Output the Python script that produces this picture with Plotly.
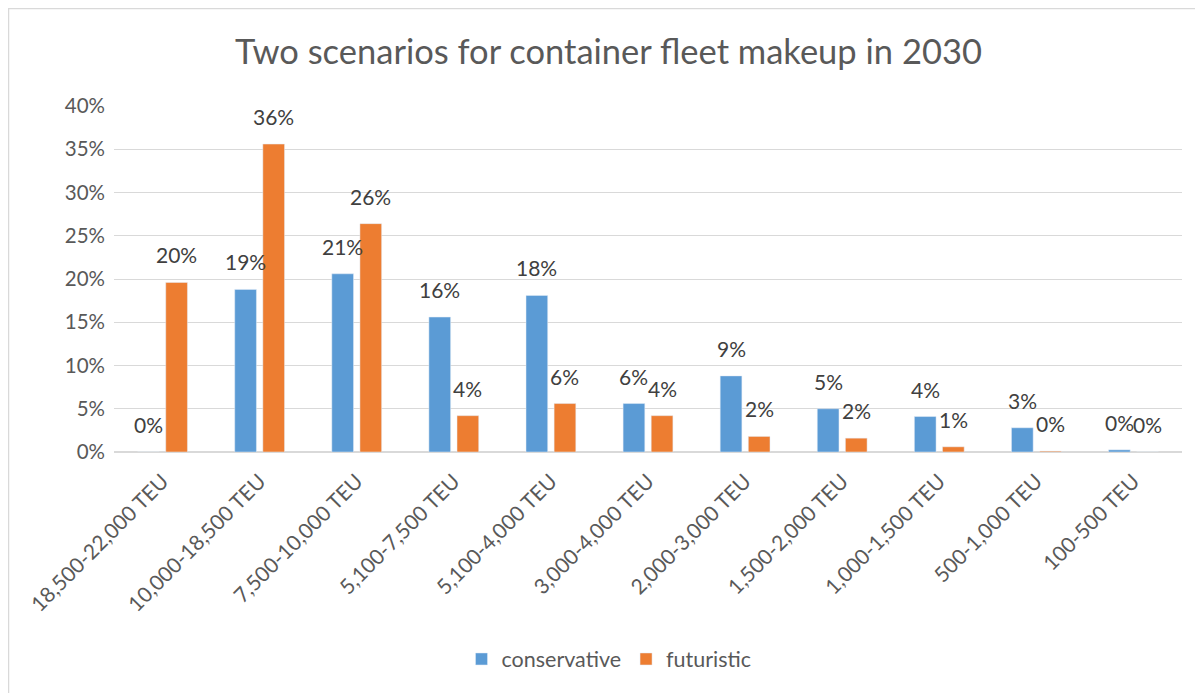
import plotly.graph_objects as go

categories = ["18,500-22,000 TEU", "10,000-18,500 TEU", "7,500-10,000 TEU", "5,100-7,500 TEU",
              "5,100-4,000 TEU", "3,000-4,000 TEU", "2,000-3,000 TEU", "1,500-2,000 TEU",
              "1,000-1,500 TEU", "500-1,000 TEU", "100-500 TEU"]
conservative = [0.0, 18.8, 20.6, 15.6, 18.1, 5.6, 8.8, 5.0, 4.1, 2.8, 0.25]
futuristic = [19.6, 35.6, 26.4, 4.2, 5.6, 4.2, 1.8, 1.6, 0.6, 0.1, 0.0]
y_ticks = [0, 5, 10, 15, 20, 25, 30, 35, 40]
y_tick_labels = ["0%", "5%", "10%", "15%", "20%", "25%", "30%", "35%", "40%"]

FONT = "Lato"
BLUE = "#5B9BD5"
ORANGE = "#ED7D31"
bargap = 0.421
bargroupgap = 0.228

W, H = 1195, 685
L, R, T, B = 106, 21, 98, 241

fig = go.Figure()
fig.add_trace(go.Bar(x=categories, y=conservative, name="conservative", marker_color=BLUE))
fig.add_trace(go.Bar(x=categories, y=futuristic, name="futuristic", marker_color=ORANGE))

off = (1 - bargap) / 4
annotations = []
for i, (c, f) in enumerate(zip(conservative, futuristic)):
    for xv, v in ((i - off, c), (i + off, f)):
        annotations.append(dict(x=xv, y=v, xref="x", yref="y", text=f"{round(v)}%",
                                showarrow=False, yanchor="bottom", xanchor="center", yshift=13,
                                font=dict(family=FONT, size=21, color="#404040")))

pw = W - L - R
ph = H - T - B
fig.update_layout(
    width=W, height=H,
    margin=dict(l=L, r=R, t=T, b=B),
    paper_bgcolor="white", plot_bgcolor="white",
    barmode="group", bargap=bargap, bargroupgap=bargroupgap,
    title=dict(text="Two scenarios for container fleet makeup in 2030", x=(608.5 - 8) / W, xref="container",
               xanchor="center", y=1 - 44 / H, yref="container", yanchor="middle",
               font=dict(family=FONT, size=34.5, color="#595959")),
    font=dict(family=FONT, color="#595959"),
    xaxis=dict(tickangle=-45, tickfont=dict(family=FONT, size=21, color="#595959"), showgrid=False,
               showline=False, ticks="", ticklabelstandoff=12),
    yaxis=dict(range=[0, 40], tickvals=y_ticks, ticktext=y_tick_labels, showgrid=True, gridcolor="#D9D9D9",
               gridwidth=1, zeroline=True, zerolinecolor="#D9D9D9", zerolinewidth=1.5,
               tickfont=dict(family=FONT, size=20.5, color="#595959"), ticks="", ticklabelstandoff=8),
    legend=dict(orientation="h", x=(609 - 8 - L) / pw, xanchor="center", y=(T + ph - (659 - 8)) / ph,
                yanchor="middle", font=dict(family=FONT, size=21.5, color="#595959")),
    annotations=annotations,
    shapes=[dict(type="rect", xref="paper", yref="paper", x0=(0.5 - L) / pw, x1=1.05,
                 y0=-0.8, y1=(T + ph - 0.5) / ph, line=dict(color="#D9D9D9", width=1.5),
                 fillcolor="rgba(0,0,0,0)", layer="below")],
)
fig.write_html("out.html")
